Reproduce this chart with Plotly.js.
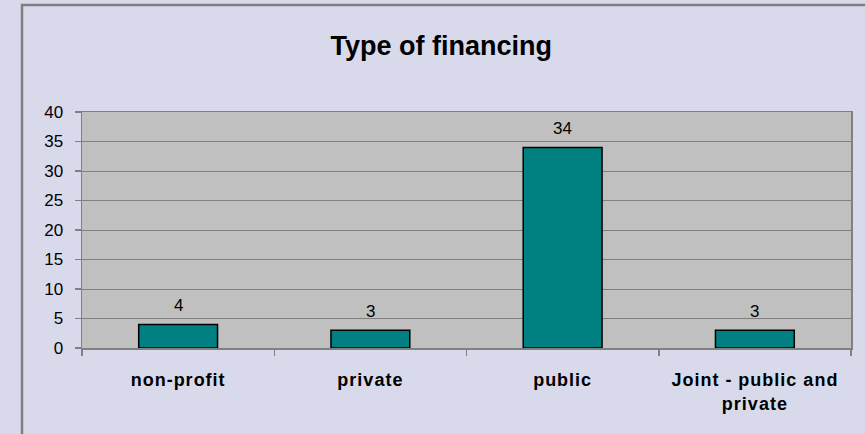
<!DOCTYPE html>
<html><head><meta charset="utf-8">
<script src="https://cdn.plot.ly/plotly-3.0.1.min.js"></script>
<style>html,body{margin:0;padding:0;background:#D9D9EC;}#chart{width:865px;height:434px;}
#chart .xtick text{letter-spacing:1px;}</style>
</head><body><div id="chart"></div>
<script>
const categories = ["non-profit", "private", "public", "Joint - public and<br>private"];
const values = [4, 3, 34, 3];
const yTicks = [0, 5, 10, 15, 20, 25, 30, 35, 40];

const FONT = "Liberation Sans, Arial, sans-serif";
const trace = {
  type: "bar", x: categories, y: values,
  marker: {color: "#008080", line: {color: "#000000", width: 1.5}},
  hoverinfo: "none"
};
const annotations = categories.map((c, i) => ({
  x: c, y: values[i], text: String(values[i]), showarrow: false,
  yanchor: "bottom", yshift: 7, xref: "x", yref: "y",
  font: {family: FONT, size: 17, color: "#000"}
}));
const layout = {
  width: 865, height: 434,
  margin: {l: 82, r: 14, t: 112, b: 86},
  paper_bgcolor: "#D9D9EC", plot_bgcolor: "#C0C0C0",
  bargap: 0.59,
  showlegend: false,
  title: {text: "<b>Type of financing</b>", x: 0.51, xanchor: "center", y: 0.895, yanchor: "middle",
    font: {family: FONT, size: 27, color: "#000"}},
  xaxis: {type: "category", tickson: "boundaries", ticks: "outside", ticklen: 6, tickcolor: "#808080", tickwidth: 1.5,
    showline: true, linecolor: "#808080", linewidth: 1.5, showgrid: false, mirror: true,
    ticklabelstandoff: 15, tickangle: 0,
    tickfont: {family: FONT, size: 18, color: "#000", weight: "bold"}},
  yaxis: {range: [0, 40], tickvals: yTicks, ticks: "outside", ticklen: 6, tickcolor: "#808080", tickwidth: 1.5,
    showline: true, linecolor: "#808080", linewidth: 1.5, mirror: true,
    ticklabelstandoff: 8,
    gridcolor: "#808080", gridwidth: 1, zeroline: false,
    tickfont: {family: FONT, size: 17, color: "#000"}},
  annotations: annotations,
  shapes: [{type: "rect", xref: "paper", yref: "paper",
    x0: (22 - 82) / 769, x1: 1.2, y0: -0.6, y1: (348 - 5) / 236,
    line: {color: "#808080", width: 2.5}, fillcolor: "rgba(0,0,0,0)", layer: "below"}]
};
Plotly.newPlot("chart", [trace], layout, {displayModeBar: false, staticPlot: true});
</script></body></html>
